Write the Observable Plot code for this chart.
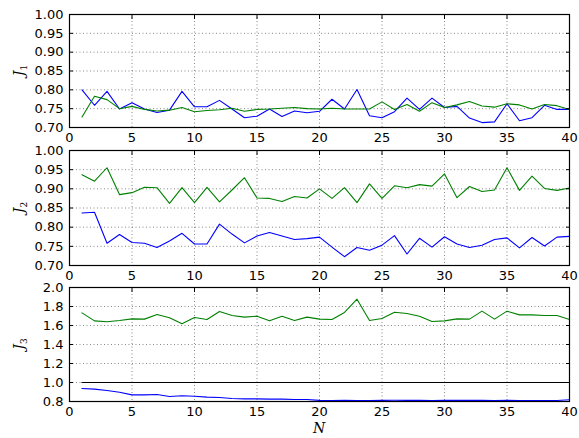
<!DOCTYPE html>
<html><head><meta charset="utf-8">
<script src="https://cdn.jsdelivr.net/npm/d3@7"></script>
<script src="https://cdn.jsdelivr.net/npm/@observablehq/plot@0.6"></script>
<style>
body{margin:0;background:#fff;}
#chart{position:relative;width:579px;height:438px;overflow:hidden;}
#chart svg{position:absolute;left:0;overflow:visible;}
#xlabel{position:absolute;left:0;width:579px;top:420px;text-align:center;padding-left:59px;box-sizing:border-box;font-family:"DejaVu Serif",serif;font-style:italic;font-size:14px;}
</style></head><body><div id="chart"><div id="xlabel"></div></div>
<script>
const N = d3.range(1, 41);
const xTicks = [0, 5, 10, 15, 20, 25, 30, 35, 40];
const xLabel = "N";
const yTicksJ12 = [0.70, 0.75, 0.80, 0.85, 0.90, 0.95, 1.00];
const yTicksJ3 = [0.8, 1.0, 1.2, 1.4, 1.6, 1.8, 2.0];
const reference = 1.0;

const j1Blue = [0.800,0.759,0.796,0.749,0.766,0.749,0.740,0.746,0.796,0.755,0.755,0.772,0.749,0.726,0.730,0.749,0.729,0.744,0.739,0.743,0.775,0.749,0.801,0.731,0.726,0.742,0.778,0.748,0.778,0.753,0.756,0.725,0.713,0.715,0.763,0.718,0.726,0.759,0.748,0.748];
const j1Green = [0.728,0.783,0.774,0.750,0.756,0.748,0.744,0.746,0.753,0.742,0.745,0.747,0.751,0.743,0.748,0.749,0.751,0.753,0.750,0.749,0.751,0.749,0.749,0.749,0.768,0.748,0.761,0.743,0.766,0.753,0.760,0.769,0.757,0.754,0.763,0.760,0.749,0.761,0.758,0.748];
const j2Blue = [0.837,0.839,0.758,0.781,0.760,0.758,0.747,0.764,0.784,0.756,0.756,0.808,0.782,0.759,0.777,0.786,0.777,0.768,0.770,0.774,0.748,0.723,0.747,0.740,0.753,0.778,0.730,0.771,0.748,0.775,0.756,0.747,0.753,0.768,0.772,0.746,0.773,0.751,0.774,0.776];
const j2Green = [0.937,0.920,0.955,0.885,0.890,0.904,0.903,0.862,0.903,0.864,0.904,0.866,0.897,0.929,0.876,0.875,0.867,0.880,0.876,0.900,0.875,0.903,0.864,0.913,0.875,0.908,0.903,0.911,0.907,0.939,0.877,0.906,0.893,0.897,0.955,0.896,0.933,0.901,0.896,0.902];
const j3Blue = [0.937,0.930,0.916,0.898,0.870,0.870,0.874,0.853,0.860,0.856,0.846,0.842,0.832,0.828,0.828,0.825,0.825,0.821,0.821,0.812,0.811,0.812,0.810,0.811,0.812,0.813,0.812,0.813,0.811,0.812,0.812,0.812,0.812,0.811,0.812,0.811,0.811,0.810,0.810,0.818];
const j3Green = [1.733,1.649,1.639,1.653,1.670,1.667,1.716,1.681,1.618,1.684,1.663,1.747,1.705,1.688,1.698,1.649,1.698,1.653,1.688,1.667,1.663,1.737,1.877,1.653,1.674,1.740,1.726,1.698,1.642,1.649,1.670,1.667,1.751,1.667,1.751,1.712,1.712,1.705,1.705,1.663];

const panels = [
  {sub: "1", blue: j1Blue, green: j1Green, domain: [0.70, 1.00], ticks: yTicksJ12, fmt: ".2f", top: 14, bottom: 127, rule: false},
  {sub: "2", blue: j2Blue, green: j2Green, domain: [0.70, 1.00], ticks: yTicksJ12, fmt: ".2f", top: 150, bottom: 265, rule: false},
  {sub: "3", blue: j3Blue, green: j3Green, domain: [0.8, 2.0], ticks: yTicksJ3, fmt: ".1f", top: 287, bottom: 401, rule: true}
];

const chart = document.getElementById("chart");
const mT = 8, mB = 22, mL = 69, mR = 10;
const font = "'DejaVu Sans', sans-serif";

panels.forEach(p => {
  const rows = [];
  N.forEach((n, i) => {
    rows.push({N: n, J: p.blue[i], s: "blue"});
  });
  N.forEach((n, i) => {
    rows.push({N: n, J: p.green[i], s: "green"});
  });
  const gridStyle = {stroke: "#444", strokeWidth: 0.8, strokeOpacity: 0.8, strokeDasharray: "1,2.5"};
  const marks = [
    Plot.gridX(xTicks, gridStyle),
    Plot.gridY(p.ticks, gridStyle),
    Plot.line(rows.filter(d => d.s === "blue"), {x: "N", y: "J", stroke: "#0000ff", strokeWidth: 1.1}),
    Plot.line(rows.filter(d => d.s === "green"), {x: "N", y: "J", stroke: "#008000", strokeWidth: 1.1}),
  ];
  if (p.rule) marks.push(Plot.ruleY([reference], {x1: N[0], x2: N[N.length - 1], stroke: "#000", strokeWidth: 1.1}));
  marks.push(
    Plot.axisX(xTicks, {anchor: "bottom", tickSize: -4, tickPadding: 9, tickFormat: d => String(d), label: null, fontSize: 13, fill: "#000", stroke: null}),
    Plot.axisX(xTicks, {anchor: "top", tickSize: -4, tickFormat: () => "", label: null}),
    Plot.axisY(p.ticks, {anchor: "left", tickSize: -4, tickPadding: 10, tickFormat: d3.format(p.fmt), label: null, fontSize: 13}),
    Plot.axisY(p.ticks, {anchor: "right", tickSize: -4, tickFormat: () => "", label: null}),
    Plot.frame({stroke: "#000", strokeWidth: 1.2})
  );
  const svg = Plot.plot({
    width: 579,
    height: (p.bottom - p.top) + mT + mB,
    marginTop: mT, marginBottom: mB, marginLeft: mL, marginRight: mR,
    style: {fontFamily: font, fontSize: "13px", background: "transparent", color: "#000", overflow: "visible"},
    x: {domain: [0, 40]},
    y: {domain: p.domain},
    marks
  });
  svg.style.top = (p.top - mT) + "px";
  const h = p.bottom - p.top;
  const t = d3.select(svg).append("text")
    .attr("transform", `translate(24,${mT + h / 2}) rotate(-90)`)
    .attr("text-anchor", "middle")
    .attr("font-family", "'DejaVu Serif', serif")
    .attr("font-style", "italic")
    .attr("font-size", 14)
    .attr("fill", "#000");
  t.append("tspan").text("J");
  t.append("tspan").attr("font-size", 9).attr("dy", 3).attr("font-style", "normal").text(p.sub);
  chart.appendChild(svg);
});
document.getElementById("xlabel").textContent = xLabel;
</script>
</body></html>
